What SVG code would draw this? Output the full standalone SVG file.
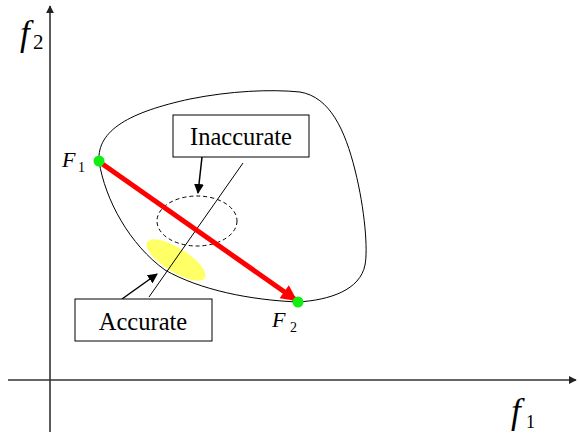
<svg xmlns="http://www.w3.org/2000/svg" width="579" height="437" viewBox="0 0 579 437">
<style>
.box{fill:#fff;stroke:#000;stroke-width:1}
.thin{fill:none;stroke:#000;stroke-width:1}
.axis{stroke:#333;stroke-width:1.6;fill:none}
</style>
<defs>
<marker id="ax" viewBox="0 0 10 10" refX="9" refY="5" markerWidth="8" markerHeight="8" markerUnits="userSpaceOnUse" orient="auto"><path d="M0,0L10,5L0,10z" fill="#222"/></marker>
<marker id="bk" viewBox="0 0 10 10" refX="9" refY="5" markerWidth="10" markerHeight="10" markerUnits="userSpaceOnUse" orient="auto"><path d="M0,0L10,5L0,10z" fill="#000"/></marker>
<marker id="rd" viewBox="0 0 10 10" refX="9" refY="5" markerWidth="18" markerHeight="16" markerUnits="userSpaceOnUse" orient="auto"><path d="M0,0L10,5L0,10z" fill="#f00"/></marker>
</defs>
<g id="axes">
<line class="axis" x1="50" y1="432" x2="50" y2="6" marker-end="url(#ax)"/>
<line class="axis" x1="8" y1="380" x2="576" y2="380" marker-end="url(#ax)"/>
<text x="20" y="45" font-size="35" font-style="italic" font-family="Liberation Serif">f</text><text x="33" y="49" font-size="21" font-family="Liberation Serif">2</text>
<text x="511" y="423" font-size="35" font-style="italic" font-family="Liberation Serif">f</text><text x="526" y="428" font-size="18" font-family="Liberation Serif">1</text>
</g>
<g id="region">
<path class="thin" d="M99,161 C97,130 130,112 190,99 C230,91 270,89 300,92 C330,97 345,130 355,170 C365,210 368,250 365,265 C360,290 330,300 298,302 C250,300 200,290 165,270 C130,245 105,200 99,161 Z"/>
</g>
<g id="accurate-region">
<ellipse cx="176" cy="260" rx="34" ry="12" fill="#ffff66" transform="rotate(32 176 260)"/>
</g>
<g id="inaccurate-region">
<ellipse cx="197" cy="221" rx="40" ry="25" fill="none" stroke="#000" stroke-width="1" stroke-dasharray="4,3"/>
</g>
<g id="connectors">
<line class="thin" x1="243" y1="163" x2="149" y2="297"/>
<line x1="202" y1="157" x2="198" y2="193" stroke="#000" stroke-width="1.5" marker-end="url(#bk)"/>
<line x1="122" y1="299" x2="157" y2="274" stroke="#000" stroke-width="1.5" marker-end="url(#bk)"/>
<line x1="101" y1="163" x2="296" y2="300" stroke="#f00" stroke-width="5" marker-end="url(#rd)"/>
</g>
<g id="F1">
<circle cx="99" cy="161" r="5.5" fill="#1e1"/>
<text x="62" y="167" font-size="22" font-style="italic" font-family="Liberation Serif">F</text><text x="78" y="172" font-size="14" font-family="Liberation Serif">1</text>
</g>
<g id="F2">
<circle cx="298" cy="302" r="5.5" fill="#1e1"/>
<text x="272" y="327" font-size="22" font-style="italic" font-family="Liberation Serif">F</text><text x="290" y="332" font-size="14" font-family="Liberation Serif">2</text>
</g>
<g id="inaccurate">
<rect class="box" x="173" y="115" width="136" height="42"/>
<text x="241" y="145" font-size="24.5" text-anchor="middle" font-family="Liberation Serif">Inaccurate</text>
</g>
<g id="accurate">
<rect class="box" x="75" y="299" width="137" height="42"/>
<text x="143" y="330" font-size="24.5" text-anchor="middle" font-family="Liberation Serif">Accurate</text>
</g>
</svg>
